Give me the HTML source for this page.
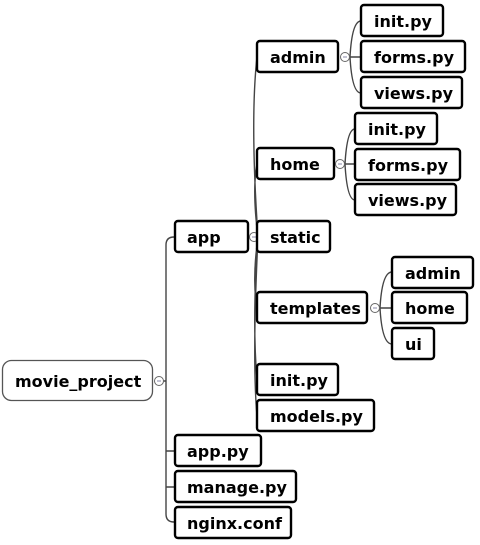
<!DOCTYPE html>
<html><head><meta charset="utf-8"><style>
html,body{margin:0;padding:0;background:#fff;width:480px;height:545px;overflow:hidden}
text{font-family:"DejaVu Sans","Liberation Sans",sans-serif;font-weight:bold;font-size:16px;fill:#000}
.b{fill:#fff;stroke:#000;stroke-width:2.4}
.l{fill:none;stroke:#444;stroke-width:1.4}
.c{fill:#fff;stroke:#666;stroke-width:1}
</style></head><body>
<svg width="480" height="545" xmlns="http://www.w3.org/2000/svg">
<path class="l" d="M163,381 L166,381 M174,237 Q166,237 166,245 L166,514 Q166,522 174,522 M166,451 L174,451 M166,487 L174,487"/>
<path class="l" d="M258,237 Q250,120 257,57 M258,237 Q252,190 257,164 M258,237 L257,237 M258,237 Q252,280 257,308 M258,237 Q252,320 257,380 M258,237 Q252,360 257,416"/>
<path class="l" d="M350,57 Q352,21 361,21 M350,57 L361,57 M350,57 Q352,93 361,93"/>
<path class="l" d="M345,164 Q347,129 355,129 M345,164 L355,164 M345,164 Q347,200 355,200"/>
<path class="l" d="M380,308 Q382,272 392,272 M380,308 L392,308 M380,308 Q382,344 392,344"/>
<circle class="c" cx="159" cy="381" r="4.5"/><line x1="157" y1="381" x2="161" y2="381" stroke="#88a" stroke-width="1"/>
<circle class="c" cx="254" cy="237" r="4.5"/><line x1="252" y1="237" x2="256" y2="237" stroke="#88a"/>
<circle class="c" cx="345" cy="57" r="4.5"/><line x1="343" y1="57" x2="347" y2="57" stroke="#88a"/>
<circle class="c" cx="340" cy="164" r="4.5"/><line x1="338" y1="164" x2="342" y2="164" stroke="#88a"/>
<circle class="c" cx="375" cy="308" r="4.5"/><line x1="373" y1="308" x2="377" y2="308" stroke="#88a"/>
<rect x="2.5" y="360.5" width="150" height="40" rx="9" fill="#fff" stroke="#555" stroke-width="1.3"/>
<text x="15" y="387">movie_project</text>
<rect class="b" x="175" y="221" width="73" height="31" rx="3"/><text x="187" y="243">app</text>
<rect class="b" x="175" y="435" width="86" height="31" rx="3"/><text x="187" y="457">app.py</text>
<rect class="b" x="175" y="471" width="121" height="31" rx="3"/><text x="187" y="493">manage.py</text>
<rect class="b" x="175" y="507" width="116" height="31" rx="3"/><text x="187" y="529">nginx.conf</text>
<rect class="b" x="257" y="41" width="81" height="31" rx="3"/><text x="270" y="63">admin</text>
<rect class="b" x="257" y="148" width="77" height="31" rx="3"/><text x="270" y="170">home</text>
<rect class="b" x="257" y="221" width="73" height="31" rx="3"/><text x="270" y="243">static</text>
<rect class="b" x="257" y="292" width="110" height="31" rx="3"/><text x="270" y="314">templates</text>
<rect class="b" x="257" y="364" width="81" height="31" rx="3"/><text x="270" y="386">init.py</text>
<rect class="b" x="257" y="400" width="117" height="31" rx="3"/><text x="270" y="422">models.py</text>
<rect class="b" x="361" y="5" width="82" height="31" rx="3"/><text x="374" y="27">init.py</text>
<rect class="b" x="361" y="41" width="104" height="31" rx="3"/><text x="374" y="63">forms.py</text>
<rect class="b" x="361" y="77" width="101" height="31" rx="3"/><text x="374" y="99">views.py</text>
<rect class="b" x="355" y="113" width="82" height="31" rx="3"/><text x="368" y="135">init.py</text>
<rect class="b" x="355" y="149" width="105" height="31" rx="3"/><text x="368" y="171">forms.py</text>
<rect class="b" x="355" y="184" width="101" height="31" rx="3"/><text x="368" y="206">views.py</text>
<rect class="b" x="392" y="257" width="81" height="31" rx="3"/><text x="405" y="279">admin</text>
<rect class="b" x="392" y="292" width="75" height="31" rx="3"/><text x="405" y="314">home</text>
<rect class="b" x="392" y="328" width="42" height="31" rx="3"/><text x="405" y="350">ui</text>
</svg>
</body></html>
